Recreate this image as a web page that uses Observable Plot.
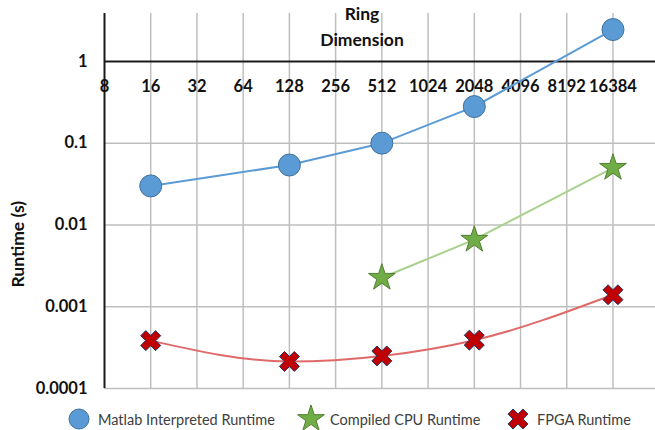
<!DOCTYPE html>
<html><head><meta charset="utf-8">
<script src="https://cdn.jsdelivr.net/npm/d3@7"></script>
<script src="https://cdn.jsdelivr.net/npm/@observablehq/plot@0.6"></script>
<style>
body{margin:0;background:#fff;font-family:Lato,sans-serif}
#legend{position:relative;width:655px;height:24px}
.item{position:absolute;top:0;display:flex;align-items:center;height:24px;font-size:14.5px;color:#404040;white-space:nowrap}
.item svg{overflow:visible;margin-right:8px}
</style></head><body><div id="chart"></div><div id="legend"></div>
<script>
const dims = [8,16,32,64,128,256,512,1024,2048,4096,8192,16384];
const matlabX = [16,128,512,2048,16384];
const matlabY = [0.030,0.054,0.10,0.28,2.45];
const cpuX = [512,2048,16384];
const cpuY = [0.00226,0.0066,0.050];
const fpgaX = [16,128,512,2048,16384];
const fpgaY = [0.000385,0.000214,0.00025,0.00039,0.0014];
const yTicks = [1,0.1,0.01,0.001,0.0001];
const yGrid = [0.1,0.01,0.001,0.0001];
const names = ["Matlab Interpreted Runtime","Compiled CPU Runtime","FPGA Runtime"];
const titleLines = ["Ring","Dimension"];

const thickX = {draw(ctx, size){
  const r = Math.sqrt(size/Math.PI), t = r*0.36, L = r*Math.SQRT2 - t;
  const pts = [[-t,-L],[t,-L],[t,-t],[L,-t],[L,t],[t,t],[t,L],[-t,L],[-t,t],[-L,t],[-L,-t],[-t,-t]]
    .map(([x,y]) => [(x-y)/Math.SQRT2,(x+y)/Math.SQRT2]);
  ctx.moveTo(...pts[0]); for (const p of pts.slice(1)) ctx.lineTo(...p); ctx.closePath();
}};

const matlab = matlabX.map((x,i)=>({x, y: matlabY[i]}));
const cpu = cpuX.map((x,i)=>({x, y: cpuY[i]}));
const fpga = fpgaX.map((x,i)=>({x, y: fpgaY[i]}));

const chart = Plot.plot({
  width: 655, height: 407,
  marginLeft: 104, marginRight: 0, marginTop: 13, marginBottom: 19,
  style: {fontFamily: "Lato, sans-serif", background: "white", overflow: "visible"},
  x: {type: "log", base: 2, domain: [8, 31000], axis: null},
  y: {type: "log", domain: [0.0001, 3.85], axis: null},
  marks: [
    Plot.ruleX(dims.slice(1), {stroke: "#bfbfbf", strokeWidth: 1.5}),
    Plot.ruleY(yGrid, {stroke: "#bfbfbf", strokeWidth: 1.5}),
    Plot.ruleY([1], {stroke: "#1a1a1a", strokeWidth: 2}),
    Plot.ruleX([8], {stroke: "#1a1a1a", strokeWidth: 2}),
    Plot.text(dims, {x: d=>d, y: ()=>1, dy: 25, text: d=>String(d), fontWeight: "bold", fontSize: 16.5, fill: "#111"}),
    Plot.text(yTicks, {y: d=>d, frameAnchor: "left", textAnchor: "end", dx: -17, text: d=>String(d), fontWeight: "bold", fontSize: 16.5, fill: "#111"}),
    Plot.text([titleLines[0]], {frameAnchor: "top", dx: -18, dy: 1, lineAnchor: "middle", fontWeight: "bold", fontSize: 17.5, fill: "#111"}),
    Plot.text([titleLines[1]], {frameAnchor: "top", dx: -18, dy: 27, lineAnchor: "middle", fontWeight: "bold", fontSize: 17.5, fill: "#111"}),
    Plot.text(["Runtime (s)"], {y: ()=>0.0058, frameAnchor: "left", textAnchor: "middle", dx: -86, rotate: -90, fontWeight: "bold", fontSize: 17.5, fill: "#111"}),
    Plot.line(matlab, {x: "x", y: "y", stroke: "#5B9BD5", strokeWidth: 2}),
    Plot.line(cpu, {x: "x", y: "y", stroke: "#A9D18E", strokeWidth: 2}),
    Plot.line(fpga, {x: "x", y: "y", stroke: "#E06A6A", strokeWidth: 2, curve: "monotone-x"}),
    Plot.dot(matlab, {x: "x", y: "y", r: 11, fill: "#5B9BD5", stroke: "#41719C", strokeWidth: 1}),
    Plot.dot(cpu, {x: "x", y: "y", r: 8.4, symbol: "star", fill: "#70AD47", stroke: "#507E32", strokeWidth: 1}),
    Plot.dot(fpga, {x: "x", y: "y", r: 10, symbol: thickX, fill: "#C00000", stroke: "#203864", strokeWidth: 1})
  ]
});
document.getElementById("chart").appendChild(chart);

const legend = document.getElementById("legend");
const items = [
  {left: 68, path: d3.symbol(d3.symbolCircle, Math.PI*10*10)(), fill: "#5B9BD5", stroke: "#41719C"},
  {left: 300, path: d3.symbol(d3.symbolStar, Math.PI*8.4*8.4)(), fill: "#70AD47", stroke: "#507E32"},
  {left: 507, path: d3.symbol(thickX, Math.PI*10*10)(), fill: "#C00000", stroke: "#203864"}
];
items.forEach((it, i) => {
  const div = document.createElement("div");
  div.className = "item";
  div.style.left = it.left + "px";
  div.innerHTML = `<svg width="22" height="22" viewBox="-11 -11 22 22"><path d="${it.path}" fill="${it.fill}" stroke="${it.stroke}"/></svg><span>${names[i]}</span>`;
  legend.appendChild(div);
});
</script></body></html>
